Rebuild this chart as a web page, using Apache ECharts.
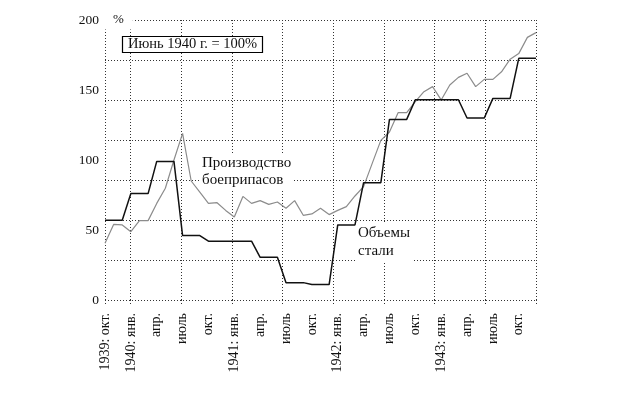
<!DOCTYPE html>
<html>
<head>
<meta charset="utf-8">
<script src="https://cdn.jsdelivr.net/npm/echarts@6/dist/echarts.min.js"></script>
<style>html,body{margin:0;padding:0;background:#fff}#c{width:620px;height:394px}</style>
</head>
<body>
<div id="c"></div>
<script>
// Months Oct 1939 .. Dec 1943 (data points)
const months = [];
(function(){ let y=1939, m=10; while (y<1943 || (y===1943 && m<=12)) { months.push(y+'-'+m); m++; if (m>12){m=1;y++;} } })();
// Grid reference months Oct 1939 .. Jan 1944
const gridMonths = months.concat(['1944-1']);
const tickLabels = ['1939: окт.','1940: янв.','апр.','июль','окт.','1941: янв.','апр.','июль','окт.',
  '1942: янв.','апр.','июль','окт.','1943: янв.','апр.','июль','окт.'];
const yTicks = [0, 50, 100, 150, 200];

// Объемы стали (steel)
const steel = [57,57,57, 76,76,76, 99,99,99, 46,46,46, 42,42,42,42,42,42, 30.5,30.5,30.5,
  12.4,12.4,12.4, 11,11,11, 53.6,53.6,53.6, 83.8,83.8,83.8, 129,129,129,
  143,143,143,143,143,143, 130,130,130, 144,144,144, 172.6,172.6,172.6];
// Производство боеприпасов (munitions)
const munitions = [40.5,54,53.6,48.8,56.7,56.7,69,79.8,100,119,85,77,69,69.5,64,59.3,74,69,71,68.3,70,
  65.5,71,60.5,61.5,65.5,61,64,66.7,74.3,81,97.6,114,120,133.8,133.8,141.7,148.8,152.4,142.9,
  153.6,159,162,152.4,157.6,157.6,163,172,176,187.6,191];

const FONT = '"Liberation Serif", "DejaVu Serif", serif';
const dot = {color:'#333', width:1, type:[1,2]};
const chart = echarts.init(document.getElementById('c'));
chart.setOption({
  animation:false,
  backgroundColor:'#fff',
  title:{text:'Июнь 1940 г. = 100%', left:122, top:36, padding:[1,6,1,6],
    borderColor:'#000', borderWidth:1.2, backgroundColor:'#fff',
    textStyle:{fontFamily:FONT, fontSize:14.5, fontWeight:'normal', color:'#111'}},
  grid:{left:105, right:84, top:20, bottom:94},
  xAxis:[
    {type:'category', data:months, boundaryGap:false, position:'bottom',
      axisLine:{show:false}, axisTick:{show:false}, splitLine:{show:false},
      axisLabel:{interval:2, rotate:90, margin:13, fontFamily:FONT, fontSize:14, color:'#111',
        formatter:(v,i)=>tickLabels[Math.round(i/3)] || ''}},
    {type:'category', data:gridMonths, boundaryGap:false, position:'bottom',
      axisLine:{show:false}, axisLabel:{show:false},
      axisTick:{show:true, length:5, interval:(i)=> i===0 || (i-3)%6===0, lineStyle:dot},
      splitLine:{show:true, interval:(i)=> i===0 || (i-3)%6===0, lineStyle:dot}}
  ],
  yAxis:[
    {type:'value', min:0, max:200, interval:50, z:5,
      name:'%', nameLocation:'end', nameGap:0,
      nameTextStyle:{align:'left', verticalAlign:'middle', fontFamily:FONT, fontSize:13, color:'#111',
        backgroundColor:'#fff', padding:[3,9,3,8]},
      axisLine:{show:false}, axisTick:{show:false}, splitLine:{show:false},
      axisLabel:{margin:6, fontFamily:FONT, fontSize:13.5, color:'#111',
        formatter:(v)=> yTicks.indexOf(v)>=0 ? String(v) : ''}},
    {type:'value', min:0, max:7, interval:1, position:'left',
      axisLine:{show:false}, axisTick:{show:false}, axisLabel:{show:false},
      splitLine:{show:true, lineStyle:dot}}
  ],
  series:[
    {name:'Производство боеприпасов', type:'line', data:munitions, xAxisIndex:0, yAxisIndex:0,
      symbol:'none', lineStyle:{color:'#8c8c8c', width:1.2}, z:3},
    {name:'Объемы стали', type:'line', data:steel, xAxisIndex:0, yAxisIndex:0,
      symbol:'none', lineStyle:{color:'#111', width:1.5}, z:4}
  ],
  graphic:[
    {type:'text', left:200, top:154, z:50,
      style:{text:'Производство\nбоеприпасов', font:'15px '+FONT, fill:'#111', lineHeight:17,
        backgroundColor:'#fff', padding:[1,2,1,2]}},
    {type:'text', left:356, top:223, z:50,
      style:{text:'Объемы\nстали', font:'15px '+FONT, fill:'#111', lineHeight:18,
        backgroundColor:'#fff', padding:[1,2,1,2]}}
  ]
});
</script>
</body>
</html>
